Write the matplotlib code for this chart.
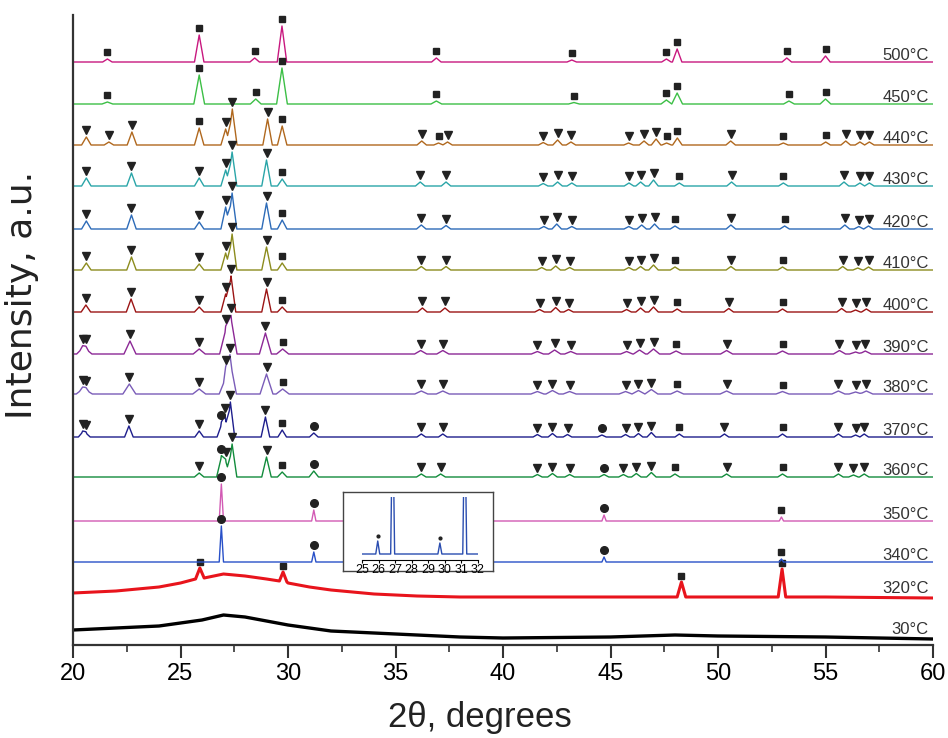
import matplotlib
matplotlib.use('Agg')
import matplotlib.pyplot as plt
import numpy as np
from matplotlib.ticker import MultipleLocator

plt.rcParams['font.family'] = ['Liberation Sans', 'DejaVu Sans']

# amorphous samples (2theta, level in px above axis)
x_30 = [20, 22, 24, 25, 26, 27, 28, 29, 30, 31, 32, 34, 36, 38, 40, 45, 48, 50, 55, 60]
y_30 = [15, 17, 19, 22, 25, 30, 28, 24, 20, 17, 14, 12, 10, 8, 7, 8, 10, 9, 8, 6]

x_320 = [20, 22, 24, 25, 25.7, 25.9, 26.1, 27, 28, 29, 29.6, 29.77, 29.95, 30, 31, 32, 34, 36,
         38, 40, 45, 48.1, 48.3, 48.5, 52.8, 52.98, 53.15, 55, 60]
y_320 = [52, 54, 58, 62, 66, 77, 67, 71, 69, 66, 64, 73, 63, 62, 58, 55, 51, 49,
         48, 48, 48, 48, 63, 48, 48, 76, 48, 48, 47]
marks_320 = [25.9, 29.77, 48.3, 52.98]

# crystalline samples: (2theta, peak height px, phase) s=square v=triangle c=circle
peaks_500 = [(21.6, 3, 's'), (25.87, 27, 's'), (28.45, 4, 's'), (29.72, 36, 's'), (36.9, 4, 's'),
             (43.2, 2, 's'), (47.6, 3, 's'), (48.1, 13, 's'), (53.2, 4, 's'), (55.0, 6, 's')]
peaks_450 = [(21.6, 2, 's'), (25.87, 29, 's'), (28.5, 5, 's'), (29.72, 36, 's'), (36.9, 3, 's'),
             (43.3, 1.5, 's'), (47.6, 4, 's'), (48.1, 11, 's'), (53.3, 3, 's'), (55.0, 5, 's')]
peaks_440 = [(20.62, 8, 'v'), (21.67, 3, 'v'), (22.74, 13, 'v'), (25.87, 17, 's'), (27.1, 16, 'v'),
             (27.41, 36, 'v'), (29.05, 26, 'v'), (29.73, 19, 's'), (36.22, 4, 'v'), (37.0, 2, 's'),
             (37.42, 3, 'v'), (41.87, 2.5, 'v'), (42.54, 5, 'v'), (43.16, 3, 'v'), (45.84, 2, 'v'),
             (46.56, 4, 'v'), (47.12, 6, 'v'), (47.61, 2, 's'), (48.11, 7, 's'), (50.59, 4, 'v'),
             (53.04, 2, 's'), (55.01, 3, 's'), (55.94, 4, 'v'), (56.6, 3, 'v'), (57.04, 3, 'v')]
peaks_430 = [(20.62, 8, 'v'), (22.72, 13, 'v'), (25.87, 8, 'v'), (27.1, 16, 'v'), (27.4, 34, 'v'),
             (29.0, 26, 'v'), (29.73, 7, 's'), (36.15, 4, 'v'), (37.35, 4, 'v'), (41.87, 2.5, 'v'),
             (42.54, 4, 'v'), (43.2, 3, 'v'), (45.86, 3, 'v'), (46.4, 4, 'v'), (47.0, 6, 'v'),
             (48.2, 3, 's'), (50.63, 4, 'v'), (53.04, 3, 's'), (55.86, 4, 'v'), (56.6, 3, 'v'),
             (57.04, 3, 'v')]
peaks_420 = [(20.62, 8, 'v'), (22.72, 14, 'v'), (25.87, 7, 'v'), (27.1, 22, 'v'), (27.4, 36, 'v'),
             (29.0, 26, 'v'), (29.73, 9, 's'), (36.2, 4, 'v'), (37.35, 3.5, 'v'), (41.9, 2.5, 'v'),
             (42.5, 5, 'v'), (43.2, 2.5, 'v'), (45.85, 2.5, 'v'), (46.45, 4, 'v'), (47.05, 5, 'v'),
             (48.0, 3, 's'), (50.6, 4, 'v'), (53.1, 3, 's'), (55.9, 4, 'v'), (56.55, 2.5, 'v'),
             (57.0, 3, 'v')]
peaks_410 = [(20.62, 7, 'v'), (22.72, 13, 'v'), (25.87, 6, 'v'), (27.1, 17, 'v'), (27.4, 36, 'v'),
             (29.0, 23, 'v'), (29.73, 7, 's'), (36.2, 3.5, 'v'), (37.35, 3.5, 'v'), (41.8, 2.5, 'v'),
             (42.45, 4, 'v'), (43.1, 2.5, 'v'), (45.85, 2.5, 'v'), (46.4, 3.5, 'v'), (47.0, 5, 'v'),
             (48.0, 3, 's'), (50.6, 3.5, 'v'), (53.0, 3, 's'), (55.8, 3.5, 'v'), (56.5, 2, 'v'),
             (57.0, 3, 'v')]
peaks_400 = [(20.6, 7, 'v'), (22.7, 13, 'v'), (25.87, 5, 'v'), (27.1, 18, 'v'), (27.35, 36, 'v'),
             (29.0, 23, 'v'), (29.73, 5, 's'), (36.25, 4, 'v'), (37.3, 4, 'v'), (41.7, 2.5, 'v'),
             (42.45, 4.5, 'v'), (43.05, 2.5, 'v'), (45.75, 2.5, 'v'), (46.4, 4, 'v'), (47.0, 5, 'v'),
             (48.1, 3, 's'), (50.5, 3.5, 'v'), (53.0, 3, 's'), (55.75, 3.5, 'v'), (56.4, 2, 'v'),
             (56.9, 3, 'v')]
peaks_390 = [(20.45, 6, 'v'), (20.6, 5, 'v'), (22.65, 13, 'v'), (25.87, 5, 'v'), (27.1, 24, 'v'),
             (27.35, 36, 'v'), (28.95, 21, 'v'), (29.75, 5, 's'), (36.17, 3.5, 'v'), (37.2, 3.5, 'v'),
             (41.6, 2.5, 'v'), (42.4, 4, 'v'), (43.15, 2.5, 'v'), (45.75, 2.5, 'v'), (46.35, 4, 'v'),
             (47.0, 5, 'v'), (48.05, 3, 's'), (50.4, 3.5, 'v'), (53.0, 3, 's'), (55.65, 3.5, 'v'),
             (56.4, 2, 'v'), (56.85, 3, 'v')]
peaks_380 = [(20.45, 5, 'v'), (20.6, 4, 'v'), (22.62, 10, 'v'), (25.87, 5, 'v'), (27.1, 16, 'v'),
             (27.3, 34, 'v'), (29.0, 20, 'v'), (29.75, 5, 's'), (36.2, 3, 'v'), (37.2, 3, 'v'),
             (41.6, 2.5, 'v'), (42.3, 3.5, 'v'), (43.1, 2.5, 'v'), (45.7, 2.5, 'v'), (46.3, 3.5, 'v'),
             (46.9, 4.5, 'v'), (48.1, 3, 's'), (50.4, 3, 'v'), (53.0, 2.5, 's'), (55.6, 3, 'v'),
             (56.4, 2, 'v'), (56.9, 3, 'v')]
peaks_370 = [(20.45, 5, 'v'), (20.6, 4, 'v'), (22.6, 11, 'v'), (25.87, 6, 'v'), (26.9, 12, 'c'),
             (27.07, 20, 'v'), (27.32, 35, 'v'), (28.95, 20, 'v'), (29.73, 7, 's'), (31.2, 4, 'c'),
             (36.2, 3, 'v'), (37.2, 3, 'v'), (41.6, 2.5, 'v'), (42.3, 3.5, 'v'), (43.0, 2.5, 'v'),
             (44.6, 2, 'c'), (45.7, 2.5, 'v'), (46.3, 3.5, 'v'), (46.9, 4.5, 'v'), (48.2, 3, 's'),
             (50.3, 3, 'v'), (53.0, 3, 's'), (55.6, 3, 'v'), (56.4, 2, 'v'), (56.8, 3, 'v')]
peaks_360 = [(25.87, 4, 'v'), (26.9, 20, 'c'), (27.1, 16, 'v'), (27.4, 33, 'v'), (29.0, 20, 'v'),
             (29.73, 5, 's'), (31.2, 6, 'c'), (36.2, 3, 'v'), (37.1, 3, 'v'), (41.6, 2.5, 'v'),
             (42.3, 3.5, 'v'), (43.1, 2.5, 'v'), (44.7, 2.5, 'c'), (45.6, 2.5, 'v'), (46.2, 3.5, 'v'),
             (46.9, 4.5, 'v'), (48.0, 3, 's'), (50.4, 3, 'v'), (53.0, 3, 's'), (55.6, 3, 'v'),
             (56.3, 2, 'v'), (56.8, 3, 'v')]
peaks_350 = [(26.9, 37, 'c'), (31.2, 11, 'c'), (44.7, 6, 'c'), (52.95, 4, 's')]
peaks_340 = [(26.9, 36, 'c'), (31.2, 10, 'c'), (44.7, 5, 'c'), (52.95, 3, 's')]

temps = ['500°C', '450°C', '440°C', '430°C', '420°C', '410°C', '400°C',
         '390°C', '380°C', '370°C', '360°C', '350°C', '340°C']
offsets = [583, 541, 500, 459, 416, 375, 333, 291, 251, 208, 168, 124, 83]
colors = ['#c8187f', '#3cbf46', '#b0681e', '#2aa5a8', '#2d6bb8', '#8c8c1e', '#9b1414',
          '#8c2896', '#7a5cb8', '#1e1e8c', '#128c3c', '#d25ab4', '#2850c8']
half_w = [0.22, 0.25, 0.22, 0.22, 0.22, 0.22, 0.22, 0.28, 0.3, 0.2, 0.22, 0.1, 0.1]
all_peaks = [peaks_500, peaks_450, peaks_440, peaks_430, peaks_420, peaks_410, peaks_400,
             peaks_390, peaks_380, peaks_370, peaks_360, peaks_350, peaks_340]

# inset (340°C, 25-32 deg), heights in px above the inset axis
inset_peaks = [(25.95, 13), (26.85, 150), (29.7, 11), (31.2, 150)]
inset_dots = [25.95, 29.7]
inset_base = 6

sym = {'s': 's', 'v': 'v', 'c': 'o'}
gap = 7


def triangles(peaks, base, hw):
    xs = [20.0, 60.0]
    for p, h, *_ in peaks:
        xs += [p - hw, p, p + hw]
    xs = np.unique(np.array(xs))
    ys = np.full(xs.shape, float(base))
    for p, h, *_ in peaks:
        ys += np.clip(h * (1 - np.abs(xs - p) / hw), 0, None)
    return xs, ys


fig = plt.figure(figsize=(9.48, 7.38), dpi=100)
ax = fig.add_axes([73 / 948, 93 / 738, 860 / 948, 630 / 738])

ax.plot(x_30, y_30, color='black', lw=2.4)
ax.plot(x_320, y_320, color='#e8141c', lw=2.2)
for p in marks_320:
    ax.plot(p, y_320[x_320.index(p)] + gap - 1, 's', color='#222222', ms=5)
ax.text(59.8, 11, '30°C', ha='right', va='baseline', fontsize=12, color='#333333')
ax.text(59.8, 52, '320°C', ha='right', va='baseline', fontsize=12, color='#333333')

for lab, off, col, hw, pk in zip(temps, offsets, colors, half_w, all_peaks):
    xs, ys = triangles(pk, off, hw)
    ax.plot(xs, ys, color=col, lw=1.0)
    for p, h, m in pk:
        top = ys[np.argmin(np.abs(xs - p))]
        ax.plot(p, top + gap, sym[m], color='#222222', ms=5.5 if m != 's' else 5)
    ax.text(59.8, off + 2, lab, ha='right', va='baseline', fontsize=12, color='#333333')

ax.set_xlim(20, 60)
ax.set_ylim(0, 630)
ax.set_yticks([])
for s in ['top', 'right']:
    ax.spines[s].set_visible(False)
for s in ['left', 'bottom']:
    ax.spines[s].set_linewidth(1.6)
    ax.spines[s].set_color('#333333')
ax.xaxis.set_major_locator(MultipleLocator(5))
ax.xaxis.set_minor_locator(MultipleLocator(2.5))
ax.tick_params(axis='x', which='major', length=9, width=1.5, color='#333333', pad=4,
               labelsize=17)
ax.tick_params(axis='x', which='minor', length=5, width=1.2, color='#333333')

fig.text(22 / 948, 1 - 295 / 738, 'Intensity, a.u.', rotation=90, ha='center', va='center',
         fontsize=26, color='#222222', family=['DejaVu Sans'])
fig.text(480 / 948, 1 - 717 / 738, '2θ, degrees', ha='center', va='center',
         fontsize=25, color='#222222')

# inset
box = fig.add_axes([343 / 948, (738 - 571) / 738, 150 / 948, 79 / 738])
box.set_xticks([])
box.set_yticks([])
for s in box.spines.values():
    s.set_linewidth(1.0)
    s.set_color('#444444')

ins = fig.add_axes([362 / 948, (738 - 560) / 738, 116 / 948, 63 / 738])
ins.patch.set_alpha(0)
xs, ys = triangles(inset_peaks, inset_base, 0.12)
ins.plot(xs, ys, color='#2a4db0', lw=1.0)
for p in inset_dots:
    top = ys[np.argmin(np.abs(xs - p))]
    ins.plot(p, top + 5, 'o', color='#222222', ms=2)
ins.set_xlim(25, 32)
ins.set_ylim(0, 63)
ins.set_yticks([])
ins.set_xticks(range(25, 33))
for s in ['top', 'right', 'left']:
    ins.spines[s].set_visible(False)
ins.spines['bottom'].set_linewidth(0.8)
ins.tick_params(axis='x', length=2, width=0.8, labelsize=9, pad=1)

fig.savefig('out.png', dpi=100)
